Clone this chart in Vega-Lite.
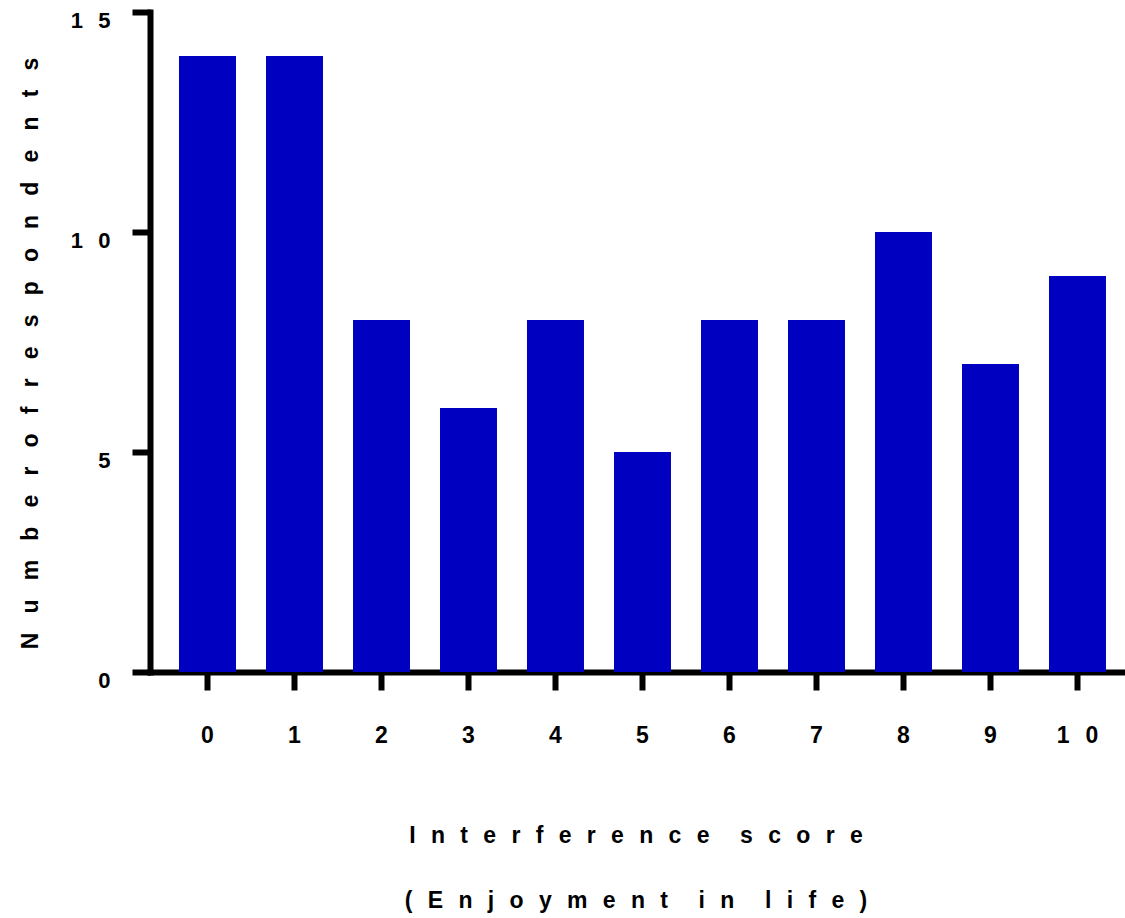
{
  "$schema": "https://vega.github.io/schema/vega-lite/v6.json",
  "autosize": "none",
  "width": 975,
  "height": 660,
  "padding": {"left": 150, "top": 12, "right": 0, "bottom": 246},
  "background": "white",
  "config": {
    "view": {"stroke": null},
    "font": "Liberation Sans"
  },
  "data": {
    "values": [
      {"score": 0, "count": 14},
      {"score": 1, "count": 14},
      {"score": 2, "count": 8},
      {"score": 3, "count": 6},
      {"score": 4, "count": 8},
      {"score": 5, "count": 5},
      {"score": 6, "count": 8},
      {"score": 7, "count": 8},
      {"score": 8, "count": 10},
      {"score": 9, "count": 7},
      {"score": 10, "count": 9}
    ]
  },
  "mark": {"type": "bar", "color": "#0000C0"},
  "encoding": {
    "x": {
      "field": "score",
      "type": "ordinal",
      "scale": {"paddingInner": 0.345, "paddingOuter": 0.276, "align": 0.604},
      "axis": {
        "title": [
          "I\u2002\u2006n\u2002\u2006t\u2002\u2006e\u2002\u2006r\u2002\u2006f\u2002\u2006e\u2002\u2006r\u2002\u2006e\u2002\u2006n\u2002\u2006c\u2002\u2006e\u2002\u2006\u2002\u2006s\u2002\u2006c\u2002\u2006o\u2002\u2006r\u2002\u2006e",
          "(\u2002\u2006E\u2002\u2006n\u2002\u2006j\u2002\u2006o\u2002\u2006y\u2002\u2006m\u2002\u2006e\u2002\u2006n\u2002\u2006t\u2002\u2006\u2002\u2006i\u2002\u2006n\u2002\u2006\u2002\u2006l\u2002\u2006i\u2002\u2006f\u2002\u2006e\u2002\u2006)"
        ],
        "titleFont": "Liberation Sans",
        "titleFontSize": 23,
        "titleFontWeight": "bold",
        "titleColor": "black",
        "titleBaseline": "alphabetic",
        "titleAnchor": "middle",
        "titleX": 485.5,
        "titleY": 170,
        "titleLineHeight": 65,
        "labelAngle": 0,
        "labelFont": "Liberation Sans",
        "labelFontSize": 23,
        "labelFontWeight": "bold",
        "labelColor": "black",
        "labelPadding": 34,
        "labelExpr": "datum.value == 10 ? '1\u2002\u20090' : datum.label",
        "domainColor": "black",
        "domainWidth": 6,
        "domainCap": "square",
        "tickColor": "black",
        "tickWidth": 6,
        "tickSize": 18,
        "grid": false
      }
    },
    "y": {
      "field": "count",
      "type": "quantitative",
      "scale": {"domain": [0, 15], "nice": false},
      "axis": {
        "title": "N\u2002\u2004u\u2002\u2004m\u2002\u2004b\u2002\u2004e\u2002\u2004r\u2002\u2004o\u2002\u2004f\u2002\u2004r\u2002\u2004e\u2002\u2004s\u2002\u2004p\u2002\u2004o\u2002\u2004n\u2002\u2004d\u2002\u2004e\u2002\u2004n\u2002\u2004t\u2002\u2004s",
        "titleFont": "Liberation Sans",
        "titleFontSize": 23,
        "titleFontWeight": "bold",
        "titleColor": "black",
        "titleBaseline": "alphabetic",
        "titleAngle": -90,
        "titleX": -113,
        "titleY": 341,
        "titleAnchor": "middle",
        "values": [0, 5, 10, 15],
        "labelFont": "Liberation Sans",
        "labelFontSize": 22,
        "labelFontWeight": "bold",
        "labelColor": "black",
        "labelPadding": 22,
        "labelOffset": 8.5,
        "labelExpr": "datum.value == 15 ? '1\u2002\u20095' : datum.value == 10 ? '1\u2002\u20090' : datum.label",
        "domainColor": "black",
        "domainWidth": 6,
        "domainCap": "square",
        "tickColor": "black",
        "tickWidth": 6,
        "tickSize": 18,
        "grid": false
      }
    }
  }
}
